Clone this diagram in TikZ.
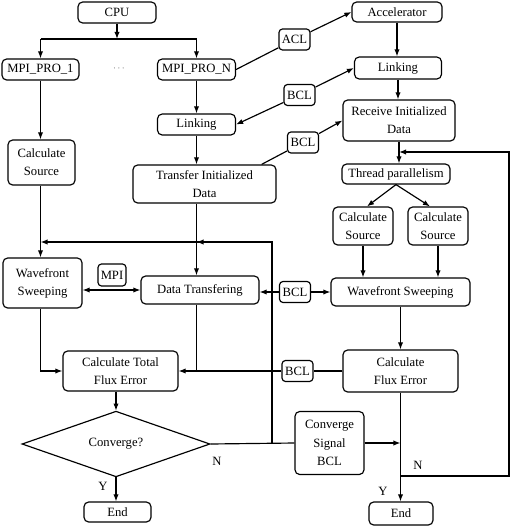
\documentclass[tikz,border=0pt]{standalone}
\usepackage{fontspec}
\setmainfont{Liberation Serif}
\usetikzlibrary{arrows.meta,shapes.geometric}

\tikzset{
  caja/.style={draw, rounded corners=4pt, align=center, inner sep=1pt},
  etiq/.style={draw, rounded corners=3pt, inner sep=1pt, minimum width=0.93cm, minimum height=0.63cm},
}

\begin{document}
\begin{tikzpicture}[x=0.03cm, y=-0.03cm, line width=1pt, >={Latex[length=6pt,width=4.5pt]},
  font=\fontsize{10.8}{15.5}\selectfont]
\useasboundingbox (0,0) rectangle (512,527);

% Procesos MPI
\node[caja, minimum width=2.34cm, minimum height=0.63cm] (cpu) at (117,12.5) {CPU};
\node[caja, minimum width=2.31cm, minimum height=0.63cm] (mpi1) at (40.5,69.5) {MPI\_PRO\_1};
\node[font=\scriptsize] (puntos) at (119,69) {$\cdots$};
\node[caja, minimum width=2.34cm, minimum height=0.63cm] (mpin) at (196.5,69.5) {MPI\_PRO\_N};

% Columna izquierda
\node[caja, minimum width=2.01cm, minimum height=1.35cm] (srcL) at (41.5,162.5) {Calculate\\Source};
\node[caja, minimum width=2.37cm, minimum height=1.5cm] (waveL) at (42.5,283) {Wavefront\\Sweeping};
\node[caja, minimum width=3.45cm, minimum height=1.2cm] (total) at (120.5,371) {Calculate Total\\Flux Error};
\node[draw, diamond, minimum width=5.64cm, minimum height=1.68cm, inner sep=0pt] (conv) at (116,444) {Converge?};
\node[caja, minimum width=2.01cm, minimum height=0.6cm] (endL) at (117.5,512) {End};
\node (yL) at (103,486) {Y};
\node (nL) at (217,461) {N};

% Columna central
\node[caja, minimum width=2.34cm, minimum height=0.63cm] (linkL) at (196.5,124.5) {Linking};
\node[caja, minimum width=4.29cm, minimum height=1.14cm] (trans) at (204.5,184) {Transfer Initialized\\Data};
\node[caja, minimum width=3.54cm, minimum height=0.84cm] (dtrans) at (200,290) {Data Transfering};
\node[etiq, minimum width=0.84cm, minimum height=0.66cm] (mpi) at (112,275) {MPI};
\node[caja, minimum width=2.07cm, minimum height=1.89cm] (signal) at (329.5,443) {Converge\\Signal\\BCL};

% Acelerador
\node[caja, minimum width=2.7cm, minimum height=0.6cm] (accel) at (397,12) {Accelerator};
\node[caja, minimum width=2.61cm, minimum height=0.66cm] (linkR) at (398,68) {Linking};
\node[caja, minimum width=3.36cm, minimum height=1.23cm] (recv) at (399,120.5) {Receive Initialized\\Data};
\node[caja, minimum width=3.24cm, minimum height=0.6cm] (thread) at (396,174) {Thread parallelism};
\node[caja, minimum width=1.8cm, minimum height=1.14cm] (srcR1) at (363,226) {Calculate\\Source};
\node[caja, minimum width=1.8cm, minimum height=1.14cm] (srcR2) at (438,226) {Calculate\\Source};
\node[caja, minimum width=4.17cm, minimum height=0.84cm] (waveR) at (400.5,292) {Wavefront Sweeping};
\node[caja, minimum width=3.45cm, minimum height=1.26cm] (fluxR) at (400.5,371) {Calculate\\Flux Error};
\node[caja, minimum width=1.92cm, minimum height=0.69cm] (endR) at (401,513.5) {End};
\node (yR) at (383,491) {Y};
\node (nR) at (418,465) {N};

% Etiquetas de enlace
\node[etiq] (acl) at (294.5,39.5) {ACL};
\node[etiq] (bcl1) at (299.5,95) {BCL};
\node[etiq] (bcl2) at (303,142.5) {BCL};
\node[etiq] (bcl3) at (295,292) {BCL};
\node[etiq] (bcl4) at (297.5,371) {BCL};

% Puntos de paso
\coordinate (rama) at (117,39);
\coordinate (vuelta) at (272,242);
\coordinate (cruce) at (272,444);
\coordinate (retA) at (509,152);
\coordinate (retB) at (509,476);

% CPU a procesos
\draw[->] (cpu.south) -- (rama);
\draw (rama -| mpi1) -- (rama -| mpin);
\draw[->] (rama -| mpi1) -- (mpi1.north);
\draw[->] (rama -| mpin) -- (mpin.north);

% Flujo izquierdo
\draw[->] (mpi1.south) -- (mpi1.south |- srcL.north);
\draw[->] (srcL.south -| mpi1) -- (waveL.north -| mpi1);
\draw[->] (waveL.south -| mpi1) -- (total.west -| mpi1) -- (total.west);
\draw[<->] (waveL.east |- dtrans.west) -- (dtrans.west);
\draw[->] (conv.north |- total.south) -- (conv.north);
\draw[->] (conv.south) -- (conv.south |- endL.north);

% Flujo central
\draw[->] (mpin.south) -- (mpin.south |- linkL.north);
\draw[->] (linkL.south) -- (linkL.south |- trans.north);
\draw[->] (trans.south -| linkL) -- (dtrans.north -| linkL);
\draw (dtrans.south -| linkL) -- (total.east -| linkL);
\draw (conv.east) -- (signal.west);
\draw[->] (cruce) -- (vuelta) -- (vuelta -| mpi1);
\draw[->] (vuelta) -- (vuelta -| linkL);

% Enlaces con el acelerador
\draw (mpin.east) -- (acl);
\draw[->] (acl) -- (accel.west);
\draw[->] (bcl1) -- (linkR.west);
\draw[->] (bcl1) -- (linkL.east);
\draw ([xshift=-0.45cm]trans.north east) -- (bcl2);
\draw[->] (bcl2) -- (recv.west);
\draw[->] (bcl3) -- (dtrans.east |- bcl3);
\draw[->] (bcl3) -- (waveR.west);
\draw (fluxR.west) -- (bcl4);
\draw[->] (bcl4) -- (total.east);

% Flujo derecho
\draw[->] (accel.south) -- (accel.south |- linkR.north);
\draw[->] (linkR.south) -- (linkR.south |- recv.north);
\draw[->] (recv.south) -- (recv.south |- thread.north);
\draw[->] (thread.south) -- ([xshift=0.12cm]srcR1.north);
\draw[->] (thread.south) -- ([xshift=-0.24cm]srcR2.north);
\draw[->] (srcR1.south) -- (srcR1.south |- waveR.north);
\draw[->] (srcR2.south) -- (srcR2.south |- waveR.north);
\draw[->] (waveR.south) -- (waveR.south |- fluxR.north);
\draw[->] (fluxR.south) -- (fluxR.south |- endR.north);
\draw[->] (signal.east) -- (signal.east -| fluxR.south);
\draw[->] (retB -| fluxR.south) -- (retB) -- (retA) -- (retA -| recv.south);
\end{tikzpicture}
\end{document}
